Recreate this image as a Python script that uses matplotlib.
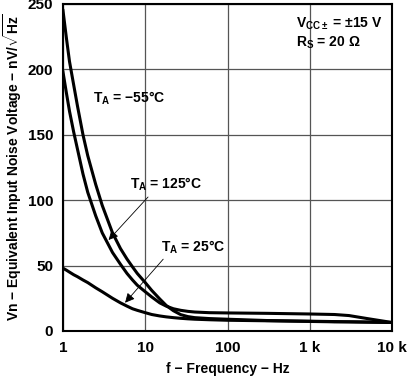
import matplotlib
matplotlib.use('Agg')
import matplotlib.pyplot as plt

plt.rcParams['font.family'] = ['Liberation Sans', 'DejaVu Sans']
plt.rcParams['font.weight'] = 'bold'
plt.rcParams['mathtext.fontset'] = 'custom'
plt.rcParams['mathtext.rm'] = 'Liberation Sans:bold'
plt.rcParams['mathtext.bf'] = 'Liberation Sans:bold'
plt.rcParams['mathtext.it'] = 'Liberation Sans:bold'

# frequency points (Hz) and noise readings (nV/rtHz)
freq = [1, 1.1, 1.2, 1.35, 1.5, 1.75, 2, 2.5, 3, 4, 5, 6, 7, 8, 10, 12, 15, 18, 22, 27,
        33, 40, 60, 100, 300, 1000, 2000, 3000, 5000, 10000]
vn_m55 = [245, 224, 206, 188, 172, 150, 134, 112, 96, 75, 63, 55, 49, 44, 37, 31, 24.5, 19.5, 15.5, 12.5,
          11, 10.2, 9.5, 9, 8, 7.5, 7.2, 7, 6.8, 6.5]
vn_125 = [198, 182, 168, 152, 139, 120, 106, 88, 75, 60, 51, 44, 39, 35, 30, 26, 21.5, 19, 17, 15.8,
          15, 14.5, 14, 13.8, 13.5, 13, 12.6, 11.8, 9.5, 6.5]
vn_25 = [48, 46.5, 45, 43, 41.5, 39, 37, 33, 30, 25, 21.5, 19, 17, 15.8, 14, 12.6, 11.5, 10.8, 10.2, 9.7,
         9.3, 9, 8.6, 8.2, 7.8, 7.3, 7, 7, 6.8, 6.5]

xticks = [1, 10, 100, 1000, 10000]
xticklabels = ['1', '10', '100', '1 k', '10 k']
yticks = [0, 50, 100, 150, 200, 250]

fig = plt.figure(figsize=(4.08, 3.76), dpi=100)
ax = fig.add_axes([0.1544, 0.1197, 0.8064, 0.8697])

for vals in (vn_m55, vn_125, vn_25):
    ax.plot(freq, vals, color='black', lw=2.2, solid_joinstyle='round')

ax.set_xscale('log')
ax.set_xlim(1, 10000)
ax.set_ylim(0, 250)
ax.set_xticks(xticks)
ax.set_xticklabels(xticklabels)
ax.set_yticks(yticks)
ax.minorticks_off()
ax.tick_params(length=0, labelsize=11, pad=7)
ax.grid(True, color='#555555', lw=0.9)
for s in ax.spines.values():
    s.set_linewidth(1.5)

ax.set_xlabel('f − Frequency − Hz', fontsize=10, fontweight='bold', labelpad=5)
ax.set_ylabel(r'Vn − Equivalent Input Noise Voltage − nV/$\sqrt{\mathrm{Hz}}$',
              fontsize=10, fontweight='bold', labelpad=3)

ax.text(2.3, 178, r'$\mathrm{T_A}$ = −55°C', fontsize=10, va='center')
ax.text(6.5, 112, r'$\mathrm{T_A}$ = 125°C', fontsize=10, va='center')
ax.text(15.5, 64, r'$\mathrm{T_A}$ = 25°C', fontsize=10, va='center')
ax.annotate('', xy=(3.4, 68), xytext=(11.4, 104),
            arrowprops=dict(arrowstyle='-|>', color='black', lw=0.6, mutation_scale=14))
ax.annotate('', xy=(5.4, 20), xytext=(17.4, 56.5),
            arrowprops=dict(arrowstyle='-|>', color='black', lw=0.6, mutation_scale=14))

ax.text(680, 235, r'$\mathrm{V_{CC\pm}}$ = ±15 V', fontsize=10, va='center')
ax.text(680, 220, r'$\mathrm{R_S}$ = 20 Ω', fontsize=10, va='center')

fig.savefig('out.png', dpi=100)
